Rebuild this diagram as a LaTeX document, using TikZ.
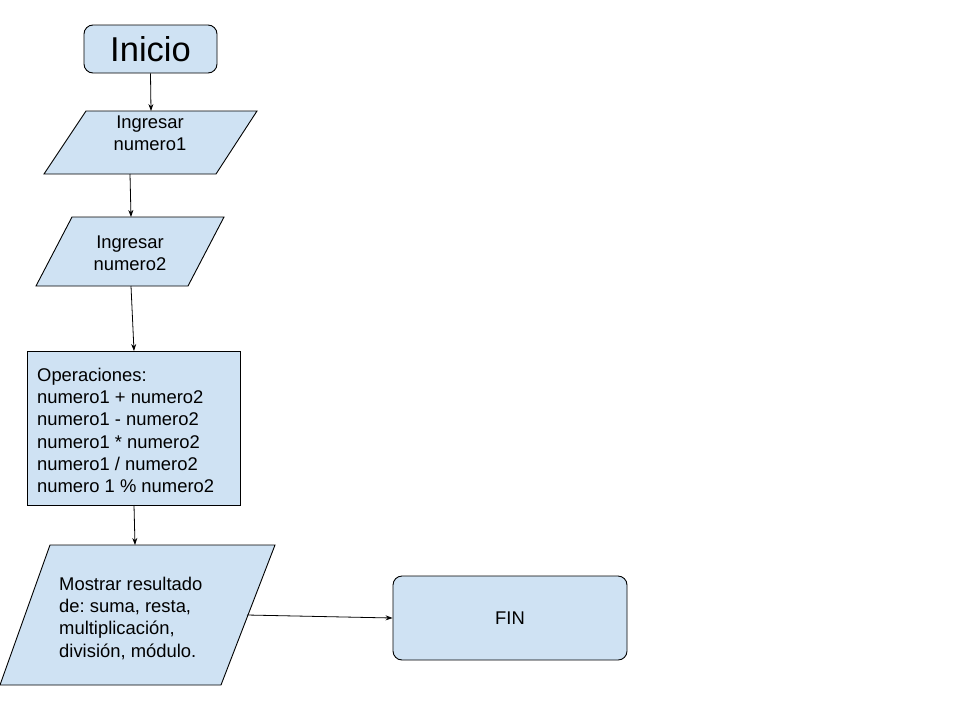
\documentclass[tikz,border=0pt]{standalone}
\usepackage{fontspec}
\setmainfont{Liberation Sans}
\frenchspacing
\usetikzlibrary{arrows.meta}
\definecolor{boxblue}{HTML}{CFE2F3}
\tikzset{
  shapebox/.style={draw=black, fill=boxblue, line width=0.9pt},
  roundbox/.style={shapebox, rounded corners=9pt, inner sep=0pt},
  arr/.style={draw=black, line width=0.8pt, -{Stealth[length=7pt,width=5pt]}},
  txt/.style={font=\fontsize{18.4}{22.2}\selectfont, inner sep=0pt},
}
\begin{document}
\begin{tikzpicture}[x=1pt,y=-1pt]
\useasboundingbox (0,0) rectangle (960,720);

% Inicio
\node[roundbox, minimum width=133pt, minimum height=48pt, font=\fontsize{34.5}{40}\selectfont] (inicio) at (150.5,49) {Inicio};

% Parallelogram 1
\draw[shapebox] (86,111) -- (257,111) -- (216,174) -- (44,174) -- cycle;
\coordinate (p1top) at (151,111);
\coordinate (p1bot) at (130,174);
\node[txt, align=center, anchor=north] (p1) at (150,115.3) {Ingresar\\numero1};

% Parallelogram 2
\draw[shapebox] (72,217) -- (224,217) -- (188,286) -- (36,286) -- cycle;
\coordinate (p2top) at (131,217);
\coordinate (p2bot) at (131,286);
\node[txt, align=center, anchor=north] (p2) at (130,235.3) {Ingresar\\numero2};

% Operations rectangle
\node[shapebox, minimum width=213pt, minimum height=154pt, inner sep=0pt] (ops) at (133.5,428) {};
\node[txt, align=left, anchor=north west] (opstxt) at (37,368) {Operaciones:\\numero1 + numero2\\numero1 - numero2\\numero1 * numero2\\numero1 / numero2\\numero 1 \% numero2};
\coordinate (opstop) at (134,351);
\coordinate (opsbot) at (134,505);

% Parallelogram 3
\draw[shapebox] (50,545) -- (275,545) -- (221,685) -- (0,685) -- cycle;
\coordinate (p3top) at (135,545);
\coordinate (p3right) at (247,615);
\node[txt, align=left, anchor=north west] (p3) at (59,577) {Mostrar resultado\\de: suma, resta,\\multiplicación,\\división, módulo.};

% FIN
\node[roundbox, minimum width=234pt, minimum height=84pt, txt] (fin) at (510,618) {FIN};

% connectors
\draw[arr] (inicio.south) -- (p1top);
\draw[arr] (p1bot) -- (p2top);
\draw[arr] (p2bot) -- (opstop);
\draw[arr] (opsbot) -- (p3top);
\draw[arr] (p3right) -- (fin.west);
\end{tikzpicture}
\end{document}
